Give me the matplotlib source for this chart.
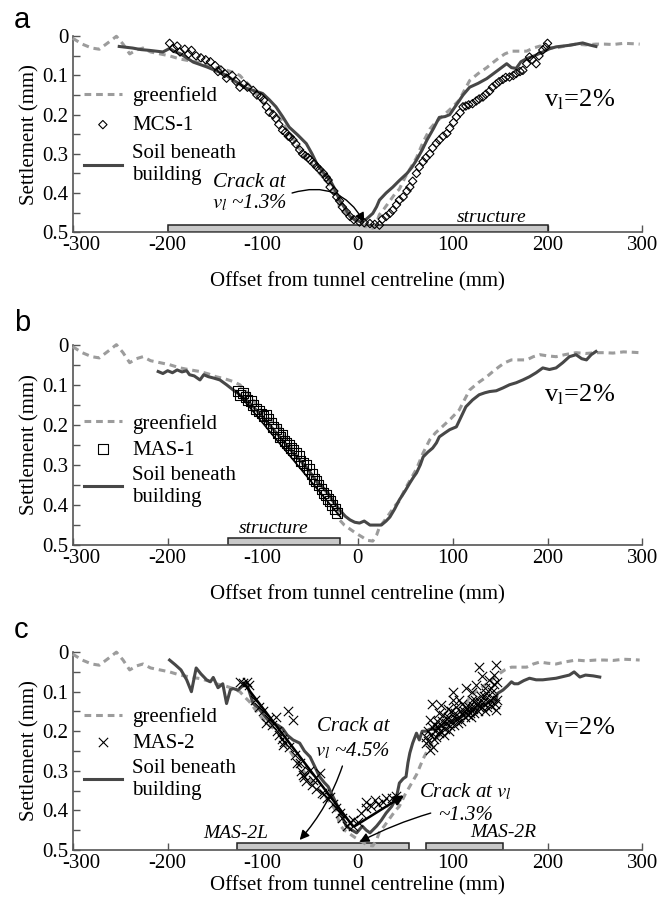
import matplotlib.pyplot as plt
import numpy as np
from matplotlib.transforms import ScaledTranslation

plt.rcParams['font.family'] = 'Liberation Serif'
plt.rcParams['mathtext.fontset'] = 'stix'
plt.rcParams['font.size'] = 15
plt.rcParams['axes.unicode_minus'] = False

#### data (offset mm, settlement mm) ##########################
greenfield = np.array([
    [-300, 0.005], [-290, 0.02], [-280, 0.03], [-272, 0.033], [-262, 0.015], [-254, 0.0],
    [-247, 0.02], [-240, 0.045], [-233, 0.035], [-226, 0.03], [-218, 0.04], [-208, 0.045],
    [-198, 0.05], [-187, 0.058], [-176, 0.063], [-166, 0.067], [-157, 0.073], [-149, 0.08],
    [-140, 0.085], [-131, 0.092], [-124, 0.1], [-119, 0.113], [-114, 0.125], [-110, 0.138],
    [-103, 0.16], [-96, 0.18], [-90, 0.19], [-85, 0.2], [-80, 0.215], [-75, 0.237],
    [-68, 0.262], [-61, 0.288], [-54, 0.31], [-47, 0.33], [-40, 0.35], [-32, 0.37],
    [-26, 0.39], [-22, 0.405], [-19, 0.437], [-14, 0.45], [-8, 0.46], [-2, 0.47],
    [5, 0.48], [10, 0.488], [16, 0.49], [20, 0.475], [23, 0.455], [28, 0.44], [34, 0.42],
    [40, 0.40], [44, 0.39], [50, 0.36], [56, 0.335], [62, 0.31], [69, 0.27], [76, 0.237],
    [82, 0.22], [89, 0.205], [98, 0.185], [107, 0.163], [112, 0.14], [118, 0.113],
    [127, 0.095], [136, 0.08], [142, 0.068], [149, 0.055], [155, 0.045], [162, 0.038],
    [170, 0.038], [178, 0.038], [185, 0.03], [192, 0.025], [200, 0.028], [209, 0.03],
    [218, 0.025], [230, 0.02], [240, 0.022], [251, 0.02], [260, 0.02], [269, 0.021],
    [280, 0.018], [290, 0.019], [297, 0.02]])

soil_a = np.array([
    [-251, 0.026], [-244, 0.028], [-237, 0.03], [-228, 0.034], [-219, 0.036], [-212, 0.038],
    [-205, 0.04], [-198, 0.031], [-192, 0.04], [-187, 0.044], [-180, 0.055], [-173, 0.066],
    [-166, 0.072], [-159, 0.078], [-152, 0.085], [-145, 0.092], [-138, 0.1], [-131, 0.112],
    [-124, 0.122], [-117, 0.133], [-110, 0.138], [-100, 0.146], [-93, 0.162], [-86, 0.18],
    [-79, 0.205], [-72, 0.232], [-63, 0.252], [-54, 0.274], [-48, 0.3], [-43, 0.325],
    [-37, 0.345], [-32, 0.36], [-29, 0.367], [-24, 0.39], [-19, 0.418], [-13, 0.44],
    [-8, 0.46], [-2, 0.47], [5, 0.474], [10, 0.465], [16, 0.452], [20, 0.435], [23, 0.418],
    [30, 0.4], [37, 0.385], [44, 0.368], [52, 0.35], [57, 0.335], [62, 0.316], [68, 0.29],
    [73, 0.265], [80, 0.235], [86, 0.207], [92, 0.205], [97, 0.2], [104, 0.175], [111, 0.15],
    [118, 0.13], [127, 0.12], [136, 0.108], [146, 0.09], [157, 0.07], [162, 0.08],
    [167, 0.082], [172, 0.065], [178, 0.057], [186, 0.05], [195, 0.04], [202, 0.032],
    [209, 0.027], [216, 0.025], [223, 0.023], [230, 0.02], [237, 0.017], [244, 0.022],
    [251, 0.026]])

mcs1 = np.array([
    [-198, 0.018], [-194, 0.031], [-190, 0.025], [-187, 0.04], [-182, 0.033], [-178, 0.045],
    [-175, 0.036], [-170, 0.05], [-165, 0.055], [-160, 0.06], [-155, 0.065], [-150, 0.075],
    [-147, 0.09], [-144, 0.086], [-140, 0.095], [-138, 0.107], [-132, 0.1], [-128, 0.115],
    [-124, 0.13], [-120, 0.122], [-116, 0.13], [-110, 0.138], [-106, 0.15], [-102, 0.155],
    [-99, 0.163], [-96, 0.18], [-93, 0.194], [-89, 0.2], [-86, 0.21], [-83, 0.225],
    [-79, 0.24], [-76, 0.245], [-73, 0.255], [-71, 0.257], [-68, 0.265], [-65, 0.275],
    [-61, 0.29], [-58, 0.3], [-55, 0.305], [-52, 0.31], [-50, 0.316], [-46, 0.325],
    [-43, 0.333], [-40, 0.34], [-36, 0.35], [-33, 0.36], [-31, 0.367], [-29, 0.385],
    [-25, 0.395], [-22, 0.41], [-19, 0.42], [-16, 0.436], [-12, 0.448], [-8, 0.46],
    [-4, 0.468], [2, 0.474], [7, 0.476], [13, 0.478], [18, 0.48], [23, 0.482], [26, 0.467],
    [30, 0.46], [34, 0.452], [37, 0.444], [41, 0.43], [44, 0.418], [48, 0.41], [52, 0.395],
    [55, 0.385], [58, 0.37], [62, 0.35], [65, 0.334], [69, 0.32], [72, 0.31], [76, 0.3],
    [79, 0.285], [83, 0.273], [86, 0.265], [90, 0.255], [94, 0.248], [97, 0.235],
    [101, 0.22], [104, 0.206], [108, 0.195], [111, 0.18], [114, 0.178], [117, 0.175],
    [121, 0.172], [125, 0.165], [128, 0.16], [132, 0.155], [135, 0.148], [139, 0.14],
    [142, 0.13], [146, 0.122], [149, 0.116], [153, 0.11], [156, 0.105], [160, 0.104],
    [164, 0.1], [167, 0.095], [171, 0.09], [174, 0.087], [178, 0.07], [181, 0.053],
    [184, 0.06], [188, 0.07], [191, 0.05], [195, 0.035], [198, 0.028], [200, 0.018]])

soil_b = np.array([
    [-210, 0.067], [-205, 0.072], [-200, 0.065], [-195, 0.07], [-190, 0.063], [-185, 0.068],
    [-180, 0.065], [-177, 0.075], [-172, 0.078], [-166, 0.088], [-162, 0.075], [-157, 0.08],
    [-152, 0.083], [-145, 0.088], [-138, 0.1], [-131, 0.113], [-124, 0.125], [-117, 0.138],
    [-110, 0.155], [-100, 0.18], [-91, 0.205], [-82, 0.23], [-75, 0.25], [-68, 0.27],
    [-61, 0.288], [-54, 0.305], [-48, 0.325], [-43, 0.342], [-37, 0.355], [-32, 0.367],
    [-26, 0.39], [-19, 0.412], [-13, 0.428], [-8, 0.437], [-3, 0.443], [2, 0.445],
    [7, 0.44], [13, 0.45], [19, 0.45], [25, 0.45], [30, 0.44], [34, 0.43], [39, 0.41],
    [44, 0.387], [50, 0.365], [55, 0.345], [59, 0.33], [62, 0.32], [66, 0.3], [69, 0.28],
    [74, 0.268], [79, 0.258], [83, 0.245], [86, 0.23], [92, 0.22], [97, 0.212], [104, 0.205],
    [109, 0.18], [114, 0.155], [121, 0.138], [128, 0.125], [134, 0.12], [139, 0.117],
    [146, 0.115], [153, 0.108], [160, 0.1], [167, 0.095], [174, 0.088], [181, 0.08],
    [188, 0.07], [195, 0.058], [202, 0.062], [209, 0.058], [216, 0.045], [223, 0.03],
    [230, 0.025], [236, 0.035], [241, 0.038], [246, 0.025], [251, 0.017]])

mas1 = np.array([
    [-126, 0.115], [-124, 0.125], [-121, 0.12], [-118, 0.13], [-116, 0.138], [-112, 0.14],
    [-110, 0.15], [-107, 0.16], [-104, 0.165], [-101, 0.172], [-99, 0.178], [-96, 0.175],
    [-94, 0.185], [-91, 0.195], [-89, 0.205], [-86, 0.21], [-84, 0.22], [-82, 0.23],
    [-79, 0.225], [-77, 0.24], [-75, 0.245], [-72, 0.25], [-70, 0.258], [-68, 0.262],
    [-65, 0.27], [-62, 0.278], [-60, 0.29], [-57, 0.295], [-54, 0.3], [-51, 0.31],
    [-48, 0.323], [-46, 0.335], [-44, 0.34], [-41, 0.35], [-38, 0.36], [-36, 0.37],
    [-33, 0.375], [-31, 0.385], [-29, 0.39], [-27, 0.4], [-24, 0.41], [-22, 0.42]])

soil_c = np.array([
    [-198, 0.02], [-192, 0.032], [-186, 0.045], [-180, 0.07], [-175, 0.1], [-170, 0.04],
    [-165, 0.055], [-159, 0.07], [-155, 0.075], [-152, 0.064], [-147, 0.09], [-142, 0.08],
    [-138, 0.13], [-134, 0.095], [-131, 0.092], [-126, 0.096], [-121, 0.085], [-117, 0.075],
    [-114, 0.1], [-110, 0.13], [-105, 0.14], [-100, 0.155], [-95, 0.17], [-89, 0.18],
    [-84, 0.185], [-79, 0.193], [-74, 0.21], [-68, 0.222], [-61, 0.23], [-56, 0.25],
    [-50, 0.265], [-45, 0.29], [-40, 0.315], [-35, 0.33], [-31, 0.34], [-25, 0.37],
    [-19, 0.4], [-12, 0.44], [-6, 0.45], [-1, 0.457], [5, 0.44], [9, 0.45], [13, 0.457],
    [20, 0.44], [25, 0.425], [30, 0.407], [36, 0.39], [41, 0.366], [44, 0.331], [48, 0.32],
    [51, 0.315], [53, 0.28], [55, 0.255], [58, 0.23], [62, 0.205], [65, 0.222], [68, 0.2],
    [72, 0.2], [76, 0.195], [80, 0.195], [86, 0.19], [95, 0.18], [104, 0.17], [112, 0.16],
    [121, 0.147], [128, 0.138], [135, 0.13], [141, 0.125], [146, 0.12], [147, 0.105],
    [153, 0.096], [158, 0.085], [162, 0.075], [165, 0.08], [169, 0.08], [175, 0.072],
    [181, 0.066], [188, 0.07], [195, 0.07], [202, 0.068], [209, 0.066], [216, 0.062],
    [223, 0.058], [228, 0.05], [234, 0.063], [240, 0.058], [248, 0.06], [255, 0.063]])

mas2 = np.array([
    [-124, 0.075], [-121, 0.078], [-116, 0.075], [-114, 0.083], [-108, 0.12], [-104, 0.14],
    [-100, 0.15], [-96, 0.18], [-93, 0.17], [-90, 0.185], [-86, 0.165], [-85, 0.2],
    [-83, 0.21], [-80, 0.22], [-79, 0.235], [-77, 0.228], [-73, 0.15], [-72, 0.24],
    [-68, 0.172], [-66, 0.26], [-64, 0.28], [-61, 0.28], [-60, 0.3], [-58, 0.31],
    [-56, 0.315], [-54, 0.325], [-51, 0.3], [-48, 0.335], [-47, 0.323], [-44, 0.345],
    [-40, 0.305], [-38, 0.355], [-35, 0.36], [-32, 0.37], [-29, 0.366], [-26, 0.385],
    [-23, 0.395], [-19, 0.407], [-16, 0.42], [-11, 0.44], [-8, 0.43],
    [-5, 0.424], [-5, 0.44], [0, 0.43], [4, 0.408], [9, 0.38], [9, 0.395], [14, 0.39],
    [18, 0.375], [22, 0.385], [27, 0.378], [30, 0.37], [36, 0.37], [40, 0.365],
    [72, 0.214], [72, 0.23], [74, 0.2], [76, 0.247], [76, 0.172], [78, 0.13], [78, 0.19],
    [80, 0.22], [82, 0.2], [84, 0.175], [86, 0.205], [88, 0.133], [88, 0.185], [90, 0.16],
    [92, 0.195], [94, 0.17], [97, 0.188], [98, 0.15], [100, 0.1], [100, 0.121], [102, 0.165],
    [104, 0.14], [106, 0.18], [107, 0.164], [110, 0.13], [112, 0.15], [114, 0.09],
    [114, 0.138], [116, 0.16], [118, 0.155], [120, 0.12], [122, 0.145], [125, 0.083],
    [126, 0.13], [128, 0.037], [128, 0.14], [130, 0.11], [132, 0.125], [135, 0.104],
    [136, 0.14], [138, 0.07], [139, 0.121], [140, 0.09], [142, 0.1], [144, 0.058],
    [145, 0.13], [146, 0.033], [146, 0.146], [147, 0.075],
    [74, 0.225], [77, 0.21], [79, 0.24], [81, 0.185], [83, 0.215], [85, 0.19], [87, 0.2],
    [89, 0.175], [91, 0.21], [93, 0.18], [95, 0.165], [96, 0.2], [99, 0.175], [101, 0.185],
    [103, 0.155], [105, 0.17], [108, 0.15], [109, 0.175], [111, 0.16], [113, 0.165],
    [115, 0.145], [117, 0.14], [119, 0.165], [121, 0.135], [123, 0.155], [124, 0.12],
    [127, 0.15], [129, 0.125], [131, 0.14], [133, 0.11], [134, 0.15], [137, 0.125],
    [141, 0.135], [143, 0.115], [144, 0.08], [147, 0.12], [134, 0.09], [131, 0.06],
    [120, 0.1], [107, 0.12], [95, 0.145], [86, 0.155]])

# fitted straight lines drawn over the crack data
fit_b = np.array([[-128, 0.115], [-18, 0.43]])
fit_c = np.array([[-120, 0.078], [-5, 0.44]])
fit_c_arrow = np.array([[-3, 0.44], [49, 0.362]])

# structure footprints (left, right)
struct_a = [(-200, 200)]
struct_b = [(-137, -19)]
struct_c = [(-127, 54), (72, 153)]

ytick_vals = [0, 0.1, 0.2, 0.3, 0.4, 0.5]
ytick_labels = ['0', '0.1', '0.2', '0.3', '0.4', '0.5']
xtick_vals = [-300, -200, -100, 0, 100, 200, 300]

GF_COL = '#9c9c9c'
SOIL_COL = '#474747'

fig = plt.figure(figsize=(6.61, 9.07), dpi=100)
boxes = [[0.110, 0.744, 0.862, 0.216],
         [0.110, 0.399, 0.862, 0.221],
         [0.110, 0.063, 0.862, 0.218]]
axs = [fig.add_axes(b) for b in boxes]


def setup(ax, xpad=12):
    ax.set_xlim(-300, 300)
    ax.set_ylim(0.5, 0)
    ax.spines['top'].set_visible(False)
    ax.spines['right'].set_visible(False)
    for s in ['left', 'bottom']:
        ax.spines[s].set_color('#555555')
        ax.spines[s].set_linewidth(1.2)
    ax.set_xticks(xtick_vals)
    ax.set_yticks(ytick_vals)
    ax.set_yticklabels(ytick_labels)
    ax.set_yticks(np.arange(0.05, 0.5, 0.1), minor=True)
    ax.tick_params(direction='in', length=5, width=1, color='#555555', labelsize=15, pad=3)
    ax.tick_params(which='minor', direction='in', length=5, width=1, color='#555555')
    ax.set_xlabel('Offset from tunnel centreline (mm)', fontsize=15, labelpad=xpad)
    ax.set_ylabel('Settlement (mm)', fontsize=15, labelpad=2)
    # MATLAB-style: first x label nudged right, clear of the "0.5"
    lab = ax.get_xticklabels()[0]
    lab.set_transform(lab.get_transform() + ScaledTranslation(0.09, 0, fig.dpi_scale_trans))


def bars(ax, spans):
    for l, r in spans:
        ax.barh(0.491, r - l, left=l, height=0.018, color='#c8c8c8',
                edgecolor='#222222', linewidth=1.1, zorder=2)


def curves(ax, soil, meas, marker, ms, label, leg_y, spacing=0.3):
    gf, = ax.plot(greenfield[:, 0], greenfield[:, 1], ls=(0, (2.2, 1.6)), color=GF_COL,
                  lw=2.2, clip_on=False, zorder=3)
    so, = ax.plot(soil[:, 0], soil[:, 1], color=SOIL_COL, lw=2.2, zorder=4)
    if marker == 'x':
        mk = ax.scatter(meas[:, 0], meas[:, 1], marker='x', s=ms, color='k', lw=0.8, zorder=5)
    else:
        mk = ax.scatter(meas[:, 0], meas[:, 1], marker=marker, s=ms, facecolor='none',
                        edgecolor='k', lw=0.8, zorder=5)
    ax.legend([gf, mk, so], ['greenfield', label, 'Soil beneath\nbuilding'],
              loc='upper left', bbox_to_anchor=(0.02, leg_y), frameon=False,
              handlelength=1.8, handletextpad=0.5, labelspacing=spacing,
              borderaxespad=0, borderpad=0, fontsize=15)


arrow = dict(arrowstyle='-|>', color='k', lw=1.0, mutation_scale=14, shrinkA=0, shrinkB=0)

# ---- a ----
ax = axs[0]
setup(ax)
bars(ax, struct_a)
curves(ax, soil_a, mcs1, 'D', 18, 'MCS-1', 0.745, spacing=0.45)
ax.text(141, 0.462, 'structure', style='italic', fontsize=14, ha='center', va='center')
ax.text(234, 0.163, r'v$_{\mathrm{l}}$=2%', fontsize=19, ha='center', va='center')
ax.text(-114, 0.40, 'Crack at\n$v_l$ ~1.3%', style='italic', fontsize=15,
        ha='center', va='center', linespacing=1.0)
ax.annotate('', xy=(7, 0.475), xytext=(-69, 0.40),
            arrowprops=dict(arrow, connectionstyle='arc3,rad=-0.4'))

# ---- b ----
ax = axs[1]
setup(ax)
bars(ax, struct_b)
curves(ax, soil_b, mas1, 's', 48, 'MAS-1', 0.655)
ax.plot(fit_b[:, 0], fit_b[:, 1], color='k', lw=1.2, zorder=6)
ax.text(-89, 0.458, 'structure', style='italic', fontsize=14, ha='center', va='center')
ax.text(234, 0.125, r'v$_{\mathrm{l}}$=2%', fontsize=19, ha='center', va='center')

# ---- c ----
ax = axs[2]
setup(ax, xpad=2)
bars(ax, struct_c)
curves(ax, soil_c, mas2, 'x', 45, 'MAS-2', 0.722)
ax.plot(fit_c[:, 0], fit_c[:, 1], color='k', lw=1.8, zorder=6)
ax.annotate('', xy=fit_c_arrow[1], xytext=fit_c_arrow[0],
            arrowprops=dict(arrow, lw=1.8), zorder=6)
ax.text(-128, 0.458, 'MAS-2L', style='italic', fontsize=14, ha='center', va='center')
ax.text(153, 0.455, 'MAS-2R', style='italic', fontsize=14, ha='center', va='center')
ax.text(234, 0.19, r'v$_{\mathrm{l}}$=2%', fontsize=19, ha='center', va='center')
ax.text(-5, 0.22, 'Crack at\n$v_l$ ~4.5%', style='italic', fontsize=15,
        ha='center', va='center', linespacing=1.3)
ax.annotate('', xy=(-61, 0.475), xytext=(-16, 0.288),
            arrowprops=dict(arrow, connectionstyle='arc3,rad=-0.1'))
ax.text(114, 0.382, 'Crack at $v_l$\n~1.3%', style='italic', fontsize=15,
        ha='center', va='center', linespacing=1.3)
ax.annotate('', xy=(2, 0.48), xytext=(77, 0.407),
            arrowprops=dict(arrow, connectionstyle='arc3,rad=0.05'))

for lab, yp in zip(['a', 'b', 'c'], [28, 331, 638]):
    fig.text(14 / 661, 1 - yp / 907, lab, fontsize=21, family='Liberation Sans', va='baseline')

fig.savefig('out.png', dpi=100)
